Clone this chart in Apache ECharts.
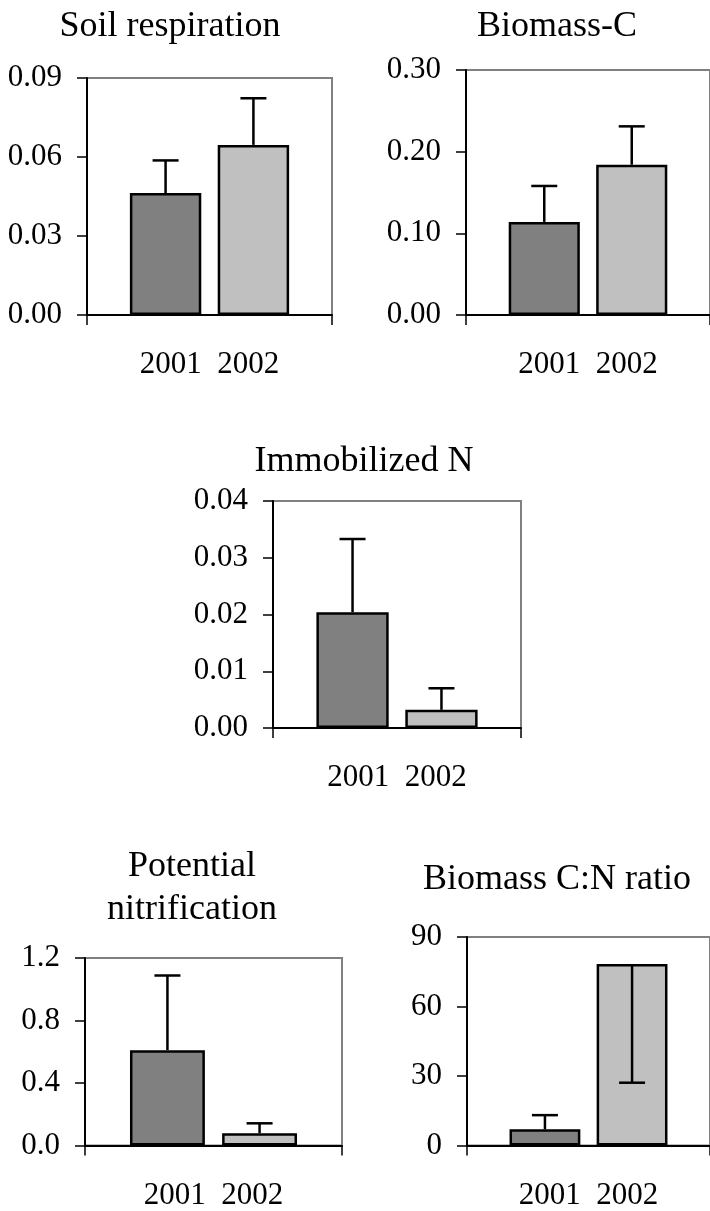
<!DOCTYPE html>
<html><head><meta charset="utf-8">
<script src="https://cdn.jsdelivr.net/npm/echarts@6/dist/echarts.min.js"></script>
<style>html,body{margin:0;padding:0;background:#fff}#c{width:710px;height:1211px}</style>
</head><body><div id="c"></div>
<script>
// ---- data ----
const categories = ['2001  2002'];
const years = ['2001', '2002'];
const panelTitles = ['Soil respiration', 'Biomass-C', 'Immobilized N', 'Potential\nnitrification', 'Biomass C:N ratio'];

const soilResp = [0.0463, 0.0646];
const soilRespErrUp = [0.0124, 0.0177];
const soilRespErrDown = [0, 0];

const biomassC = [0.114, 0.184];
const biomassCErrUp = [0.044, 0.047];
const biomassCErrDown = [0, 0];

const immobN = [0.0204, 0.0032];
const immobNErrUp = [0.0129, 0.0038];
const immobNErrDown = [0, 0];

const potNitr = [0.61, 0.079];
const potNitrErrUp = [0.478, 0.063];
const potNitrErrDown = [0, 0];

const cnRatio = [7.0, 78.3];
const cnRatioErrUp = [6.1, 0];
const cnRatioErrDown = [0, 51.2];

const yMax = [0.09, 0.30, 0.04, 1.2, 90];
const yInterval = [0.03, 0.10, 0.01, 0.4, 30];
const yDecimals = [2, 2, 2, 1, 0];

// ---- layout ----
const panels = [
  {vals: soilResp, up: soilRespErrUp, down: soilRespErrDown},
  {vals: biomassC, up: biomassCErrUp, down: biomassCErrDown},
  {vals: immobN, up: immobNErrUp, down: immobNErrDown},
  {vals: potNitr, up: potNitrErrUp, down: potNitrErrDown},
  {vals: cnRatio, up: cnRatioErrUp, down: cnRatioErrDown}
];
const grids = [
  {left: 87, top: 78, width: 245, height: 237},
  {left: 466, top: 70, width: 245, height: 245},
  {left: 273, top: 501, width: 248, height: 227},
  {left: 85, top: 958, width: 257, height: 189},
  {left: 467, top: 937, width: 245, height: 213}
];
const titlePos = [
  {x: 170, y: 5}, {x: 557, y: 5}, {x: 364, y: 440}, {x: 192, y: 845}, {x: 557, y: 858}
];
const FONT = 'Liberation Serif';
const barColors = ['#808080', '#c0c0c0'];
const CAT_GAP = 0.35, BAR_GAP = 0.23;

const option = {
  animation: false,
  backgroundColor: '#fff',
  textStyle: {fontFamily: FONT},
  title: panelTitles.map((t, i) => ({
    text: t, left: titlePos[i].x, top: titlePos[i].y, textAlign: 'center', padding: 0,
    textStyle: {fontFamily: FONT, fontSize: 36, fontWeight: 'normal', color: '#000', lineHeight: 43}
  })),
  grid: grids.map(g => Object.assign({show: true, borderColor: '#808080', borderWidth: 2, backgroundColor: 'transparent'}, g)),
  xAxis: grids.map((g, i) => ({
    type: 'category', gridIndex: i, data: categories,
    axisLine: {lineStyle: {color: '#000', width: 2}},
    axisTick: {show: true, length: 10, lineStyle: {color: '#000', width: 1.5}},
    axisLabel: {fontFamily: FONT, fontSize: 31, color: '#000', margin: 36, lineHeight: 28}
  })),
  yAxis: grids.map((g, i) => ({
    type: 'value', gridIndex: i, min: 0, max: yMax[i], interval: yInterval[i],
    axisLine: {show: true, lineStyle: {color: '#000', width: 2}},
    axisTick: {show: true, length: 10, lineStyle: {color: '#000', width: 1.5}},
    splitLine: {show: false},
    axisLabel: {fontFamily: FONT, fontSize: 31, color: '#000', margin: 25,
      formatter: v => v.toFixed(yDecimals[i])}
  })),
  series: []
};

panels.forEach((p, i) => {
  years.forEach((y, k) => {
    option.series.push({
      type: 'bar', name: y, xAxisIndex: i, yAxisIndex: i,
      data: [p.vals[k]],
      barGap: (BAR_GAP * 100) + '%', barCategoryGap: (CAT_GAP * 100) + '%',
      itemStyle: {color: barColors[k], borderColor: '#000', borderWidth: 2.5},
      z: 2
    });
  });
  option.series.push({
    type: 'custom', xAxisIndex: i, yAxisIndex: i, z: 5,
    data: years.map((y, k) => [0, k, p.vals[k], p.up[k], p.down[k]]),
    encode: {x: 0, y: 2},
    renderItem: (params, api) => {
      const k = api.value(1), v = api.value(2), up = api.value(3), dn = api.value(4);
      const c = api.coord([0, v]);
      const catW = api.size([1, 0])[0];
      const bw = catW * (1 - CAT_GAP) / (2 + BAR_GAP);
      const off = bw * (1 + BAR_GAP) / 2;
      const xc = c[0] + (k === 0 ? -off : off);
      const yv = c[1];
      const cap = 13;
      const st = {stroke: '#000', lineWidth: 2.5};
      const children = [];
      if (up > 0) {
        const yt = api.coord([0, v + up])[1];
        children.push({type: 'line', shape: {x1: xc, y1: yv, x2: xc, y2: yt}, style: st});
        children.push({type: 'line', shape: {x1: xc - cap, y1: yt, x2: xc + cap, y2: yt}, style: st});
      }
      if (dn > 0) {
        const yb = api.coord([0, v - dn])[1];
        children.push({type: 'line', shape: {x1: xc, y1: yv, x2: xc, y2: yb}, style: st});
        children.push({type: 'line', shape: {x1: xc - cap, y1: yb, x2: xc + cap, y2: yb}, style: st});
      }
      return {type: 'group', children};
    }
  });
});

const chart = echarts.init(document.getElementById('c'));
chart.setOption(option);
</script>
</body></html>
